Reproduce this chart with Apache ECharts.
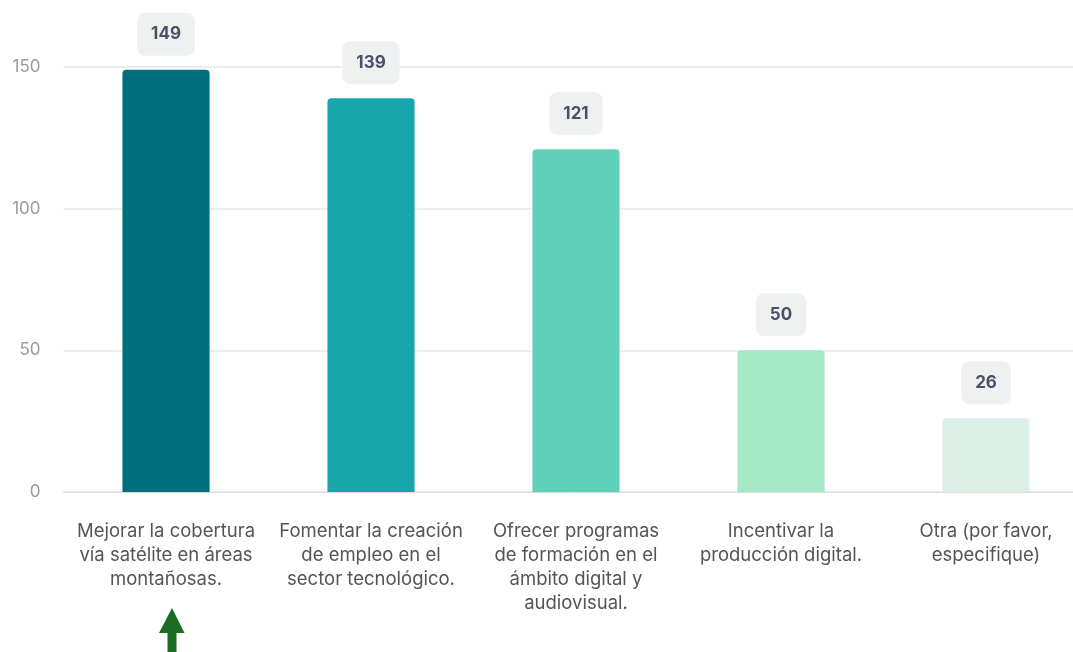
<!DOCTYPE html>
<html>
<head>
<meta charset="utf-8">
<script src="https://cdn.jsdelivr.net/npm/echarts@6/dist/echarts.min.js"></script>
<style>
  html, body { margin: 0; padding: 0; background: #fff; }
  #chart { width: 1073px; height: 652px; }
</style>
</head>
<body>
<div id="chart"></div>
<script>
// opciones de la encuesta
const categories = [
  "Mejorar la cobertura\nvía satélite en áreas\nmontañosas.",
  "Fomentar la creación\nde empleo en el\nsector tecnológico.",
  "Ofrecer programas\nde formación en el\námbito digital y\naudiovisual.",
  "Incentivar la\nproducción digital.",
  "Otra (por favor,\nespecifique)"
];
const votes = [149, 139, 121, 50, 26];
const barColors = ["#006e7c", "#18a6ac", "#5fd0b9", "#a5e8c5", "#dbefe6"];
const yTicks = [0, 50, 100, 150];

const chart = echarts.init(document.getElementById("chart"));

chart.setOption({
  animation: false,
  textStyle: { fontFamily: "Inter, 'Noto Sans', sans-serif" },
  // la rejilla sigue mas alla del borde derecho
  grid: { left: 63.5, width: 1025, top: 67, bottom: 160, outerBoundsMode: "none", containLabel: false },
  xAxis: {
    type: "category",
    data: categories,
    axisTick: { show: false },
    axisLine: { lineStyle: { color: "#dcdcdc", width: 1 } },
    axisLabel: {
      interval: 0,
      margin: 27,
      color: "#555",
      fontSize: 18.5,
      lineHeight: 24,
      align: "center"
    }
  },
  yAxis: {
    type: "value",
    min: yTicks[0],
    max: yTicks[yTicks.length - 1],
    interval: 50,
    axisLabel: { color: "#9a9a9a", fontSize: 17, margin: 23 },
    splitLine: { lineStyle: { color: "#ececec", width: 2 } }
  },
  series: [{
    type: "bar",
    data: votes.map((v, i) => ({ value: v, itemStyle: { color: barColors[i] } })),
    barWidth: "42.5%",
    itemStyle: { borderRadius: [4, 4, 0, 0] },
    label: {
      show: true,
      position: "top",
      distance: 14,
      color: "#4b5068",
      fontWeight: "bold",
      fontSize: 17,
      backgroundColor: "#eff1f1",
      borderRadius: 8,
      padding: [13, 14]
    }
  }],
  graphic: [{
    type: "polygon",
    left: 159,
    top: 608,
    shape: {
      points: [[13, 0], [25.5, 25], [17.5, 25], [17.5, 44], [8.5, 44], [8.5, 25], [0, 25]]
    },
    style: { fill: "#1b6d22" }
  }]
});
</script>
</body>
</html>
